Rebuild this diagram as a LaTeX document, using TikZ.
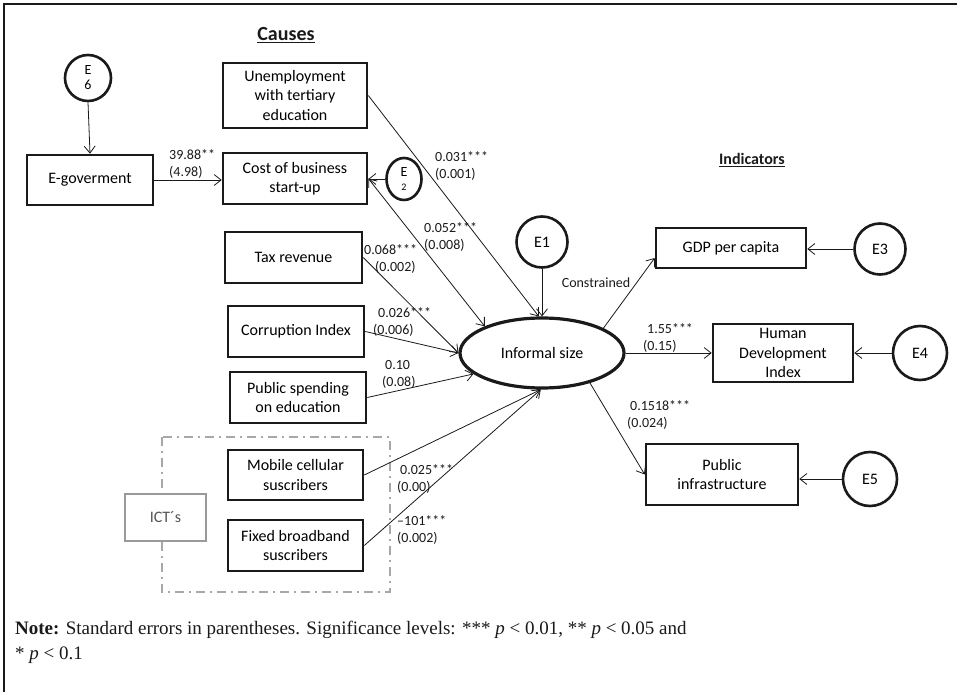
\documentclass[tikz,border=0pt]{standalone}
\usepackage{fontspec}
\setmainfont{Carlito}
\newfontfamily\notefont{Liberation Serif}
\usetikzlibrary{arrows.meta,shapes.geometric}
\definecolor{ink}{HTML}{1A1A1A}
\definecolor{grayline}{HTML}{A8A8A8}
\definecolor{graybox}{HTML}{9A9A9A}
\definecolor{graytext}{HTML}{555555}
\begin{document}
\begin{tikzpicture}[x=1pt,y=-1pt,
  box/.style={draw=ink, line width=2.6pt, fill=white, align=center, inner sep=0pt,
    font=\fontsize{16}{19.5}\selectfont},
  err/.style={draw=ink, line width=2.6pt, circle, fill=white, inner sep=0pt,
    minimum size=51pt, align=center, font=\fontsize{16}{19}\selectfont},
  conn/.style={-{Straight Barb[length=7pt,width=11pt]}, line width=0.8pt, draw=ink},
  coef/.style={font=\fontsize{14}{17}\selectfont, align=left, inner sep=0pt, anchor=west, text=ink},
  head/.style={font=\bfseries\fontsize{#1}{#1}\selectfont, text=ink},
]
\useasboundingbox (0,0) rectangle (957,692);
\fill[white] (0,0) rectangle (957,692);
\draw[ink, line width=2.2pt] (4,692) -- (4,4) -- (957,4);

% headings
\node[head=20] (causes) at (286,35) {\underline{Causes}};
\node[head=16] (indic) at (752,160) {\underline{Indicators}};

% ICT group
\draw[grayline, line width=2.5pt, dash pattern=on 9pt off 5pt on 2pt off 5pt] (162,437) rectangle (390,592);
\node[draw=graybox, line width=2.2pt, fill=white, minimum width=81pt, minimum height=47pt, inner sep=0pt,
  text=graytext, font=\fontsize{16}{19}\selectfont] (ict) at (165.5,517.5) {ICT\textasciiacute s};

% cause boxes
\node[err, minimum size=46pt, font=\fontsize{14}{15}\selectfont] (e6) at (88,78) {E\\6};
\node[box, minimum width=126pt, minimum height=50pt] (egov) at (90,180) {E-goverment};
\node[box, minimum width=144pt, minimum height=65pt] (unemp) at (295,95.5) {Unemployment\\with tertiary\\education};
\node[box, minimum width=144pt, minimum height=51pt] (cost) at (295,178.5) {Cost of business\\start-up};
\node[draw=ink, line width=2.6pt, ellipse, fill=white, minimum width=35pt, minimum height=42pt, inner sep=0pt,
  align=center, font=\fontsize{14}{14}\selectfont] (e2) at (404,179) {E\\{\fontsize{10}{10}\selectfont 2}};
\node[box, minimum width=137pt, minimum height=51pt] (tax) at (293.5,257.5) {Tax revenue};
\node[box, minimum width=136pt, minimum height=51pt] (corr) at (296,331.5) {Corruption Index};
\node[box, minimum width=136pt, minimum height=51pt] (pub) at (298,397.5) {Public spending\\on education};
\node[box, minimum width=135pt, minimum height=50pt] (mob) at (295.5,475) {Mobile cellular\\suscribers};
\node[box, minimum width=135pt, minimum height=51pt] (fix) at (295.5,545.5) {Fixed broadband\\suscribers};

% latent
\node[draw=ink, line width=3.2pt, ellipse, fill=white, minimum width=164pt, minimum height=70pt, inner sep=0pt,
  font=\fontsize{16}{19}\selectfont] (inf) at (542,353) {Informal size};
\node[err] (e1) at (542,242) {E1};

% indicators
\node[box, minimum width=150pt, minimum height=40pt] (gdp) at (731,248) {GDP per capita};
\node[err] (e3) at (880,249) {E3};
\node[box, minimum width=140pt, minimum height=58pt] (hdi) at (783,353) {Human\\Development\\Index};
\node[err, minimum size=54pt] (e4) at (920,353) {E4};
\node[box, minimum width=152pt, minimum height=61pt] (pi) at (722,474.5) {Public\\infrastructure};
\node[err, minimum size=54pt] (e5) at (870,479) {E5};

% connectors
\draw[conn] (e6.south) -- (egov.north);
\draw[conn] (egov.east) -- (egov.east -| cost.west);
\draw[conn] (e2.west) -- (e2.west -| cost.east);
\draw[conn] (unemp.east) -- (inf.95);
\draw[conn] (e1.south) -- (inf.north);
\draw[conn, {Straight Barb[length=7pt,width=11pt]}-{Straight Barb[length=7pt,width=11pt]}] (cost.east) -- (inf.155);
\draw[conn] (tax.east) -- (inf.180);
\draw[conn] (corr.east) -- (inf.180);
\draw[conn] (pub.east) -- (inf.197);
\draw[conn] (mob.east) -- (inf.268);
\draw[conn] (fix.east) -- (inf.268);
\draw[conn] (inf.22) -- ([yshift=-10pt]gdp.west);
\draw[conn] (inf.east) -- (hdi.west);
\draw[conn] (inf.328) -- (pi.west);
\draw[conn] (e3.west) -- (e3.west -| gdp.east);
\draw[conn] (e4.west) -- (e4.west -| hdi.east);
\draw[conn] (e5.west) -- (e5.west -| pi.east);

% coefficients
\node[coef] (c1) at (169,164.5) {39.88**\\(4.98)};
\node[coef] (c2) at (435,166) {0.031***\\(0.001)};
\node[coef] (c3) at (424,237) {0.052***\\(0.008)};
\node[coef] (c4) at (364,259.5) {0.068***\\\hspace*{11pt}(0.002)};
\node[coef] (c5) at (373,321.5) {\hspace*{5pt}0.026***\\(0.006)};
\node[coef] (c6) at (382,374.5) {\hspace*{3pt}0.10\\(0.08)};
\node[coef] (c7) at (397,478.5) {\hspace*{3pt}0.025***\\(0.00)};
\node[coef] (c8) at (397,530) {\textendash101***\\(0.002)};
\node[coef] (c9) at (643,337.5) {\hspace*{4pt}1.55***\\(0.15)};
\node[coef] (c10) at (627,414.5) {\hspace*{3pt}0.1518***\\(0.024)};
\node[coef, anchor=center] (c11) at (596,283) {Constrained};

% note
\node[anchor=west, align=left, inner sep=0pt, text=ink, font=\notefont\fontsize{19}{25}\selectfont] (note) at (15,642.5)
  {\textbf{Note:} Standard errors in parentheses. Significance levels: *** \textit{p} < 0.01, ** \textit{p} < 0.05 and\\* \textit{p} < 0.1};
\end{tikzpicture}
\end{document}
